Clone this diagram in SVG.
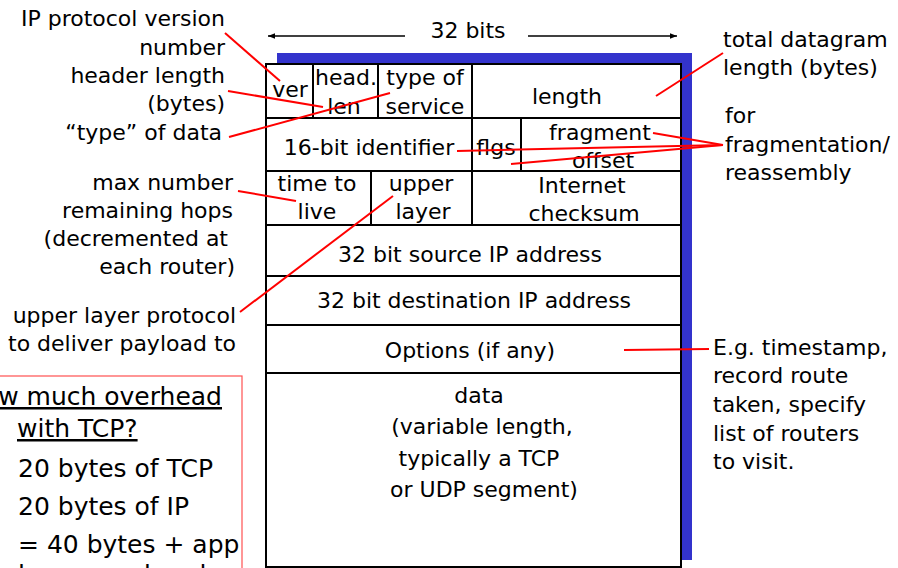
<svg xmlns="http://www.w3.org/2000/svg" width="898" height="568" viewBox="0 0 898 568">
<defs>
<marker id="ah" viewBox="0 0 10 10" refX="10" refY="5" markerWidth="10" markerHeight="7" markerUnits="userSpaceOnUse" orient="auto">
<path d="M0,1 L10,5 L0,9 z" fill="#000"/>
</marker>
</defs>
<style>
text{font-family:"DejaVu Sans","Liberation Sans",sans-serif;font-size:22px;fill:#000}
.c{text-anchor:middle}
.r{text-anchor:end}
.b{font-size:25px}
.tl{stroke:#000;stroke-width:2;fill:none}
.rl{stroke:#f00;stroke-width:2;fill:none}
.u{text-decoration:underline}
</style>
<rect width="898" height="568" fill="#fff"/>

<g id="width-arrow">
<line x1="405" y1="36" x2="268" y2="36" stroke="#000" stroke-width="1.5" marker-end="url(#ah)"/>
<line x1="528" y1="36" x2="677" y2="36" stroke="#000" stroke-width="1.5" marker-end="url(#ah)"/>
<text class="c" x="468" y="38">32 bits</text>
</g>

<g id="datagram">
<rect x="277" y="53" width="415" height="507" fill="#3333CC"/>
<rect x="266" y="64" width="415" height="503" fill="#fff" stroke="#000" stroke-width="2"/>
<path class="tl" d="M266,118H681M266,171H681M266,225H681M266,276H681M266,325H681M266,373H681"/>
<path class="tl" d="M313,64V118M378,64V118M472,64V118M472,118V171M521,118V171M371,171V225M472,171V225"/>
</g>

<g id="f-ver"><text class="c" x="290" y="97">ver</text></g>
<g id="f-hlen"><text class="c" x="346" y="85">head.</text><text class="c" x="344" y="114">len</text></g>
<g id="f-tos"><text class="c" x="425" y="85">type of</text><text class="c" x="425" y="114">service</text></g>
<g id="f-length"><text class="c" x="567" y="104">length</text></g>
<g id="f-id"><text class="c" x="369" y="155">16-bit identifier</text></g>
<g id="f-flgs"><text class="c" x="496" y="155">flgs</text></g>
<g id="f-frag"><text class="c" x="600" y="140">fragment</text><text class="c" x="603" y="168">offset</text></g>
<g id="f-ttl"><text class="c" x="317" y="191">time to</text><text class="c" x="317" y="219">live</text></g>
<g id="f-upper"><text class="c" x="421" y="191">upper</text><text class="c" x="423" y="219">layer</text></g>
<g id="f-cksum"><text class="c" x="582" y="193">Internet</text><text class="c" x="584" y="221">checksum</text></g>
<g id="f-src"><text class="c" x="470" y="262">32 bit source IP address</text></g>
<g id="f-dst"><text class="c" x="474" y="308">32 bit destination IP address</text></g>
<g id="f-opt"><text class="c" x="470" y="358">Options (if any)</text></g>
<g id="f-data">
<text class="c" x="479" y="403">data</text>
<text class="c" x="482" y="434">(variable length,</text>
<text class="c" x="479" y="466">typically a TCP</text>
<text class="c" x="484" y="497">or UDP segment)</text>
</g>

<g id="l-ver"><text class="r" x="225" y="26">IP protocol version</text><text class="r" x="225" y="55">number</text></g>
<g id="l-hlen"><text class="r" x="225" y="83">header length</text><text class="r" x="225" y="111">(bytes)</text></g>
<g id="l-tos"><text class="r" x="222" y="140">“type” of data</text></g>
<g id="l-ttl">
<text class="r" x="233" y="190">max number</text>
<text class="r" x="233" y="218">remaining hops</text>
<text class="r" x="228" y="246">(decremented at</text>
<text class="r" x="235" y="274">each router)</text>
</g>
<g id="l-proto"><text class="r" x="236" y="323">upper layer protocol</text><text class="r" x="236" y="351">to deliver payload to</text></g>
<g id="l-len"><text x="723" y="47">total datagram</text><text x="723" y="75">length (bytes)</text></g>
<g id="l-frag"><text x="725" y="123">for</text><text x="725" y="152">fragmentation/</text><text x="725" y="180">reassembly</text></g>
<g id="l-opt">
<text x="713" y="355">E.g. timestamp,</text>
<text x="713" y="383">record route</text>
<text x="713" y="412">taken, specify</text>
<text x="713" y="441">list of routers</text>
<text x="713" y="469">to visit.</text>
</g>

<g id="overhead">
<rect x="-20" y="376" width="262" height="230" fill="none" stroke="#ff5050" stroke-width="1.2"/>
<text class="b r u" x="222" y="405">How much overhead</text>
<text class="b u" x="17" y="437">with TCP?</text>
<text class="b" x="18" y="477">20 bytes of TCP</text>
<text class="b" x="18" y="515">20 bytes of IP</text>
<text class="b" x="18" y="553">= 40 bytes + app</text>
<text class="b" x="18" y="583">layer overhead</text>
</g>

<g id="connectors">
<line class="rl" x1="225" y1="33" x2="280" y2="81"/>
<line class="rl" x1="228" y1="91" x2="323" y2="107"/>
<line class="rl" x1="229" y1="137" x2="390" y2="93"/>
<line class="rl" x1="238" y1="191" x2="296" y2="201"/>
<line class="rl" x1="240" y1="312" x2="393" y2="196"/>
<line class="rl" x1="723" y1="53" x2="656" y2="96"/>
<line class="rl" x1="723" y1="145" x2="653" y2="133"/>
<line class="rl" x1="723" y1="145" x2="457" y2="151"/>
<line class="rl" x1="723" y1="145" x2="511" y2="164"/>
<line class="rl" x1="624" y1="350" x2="709" y2="349"/>
</g>
</svg>
